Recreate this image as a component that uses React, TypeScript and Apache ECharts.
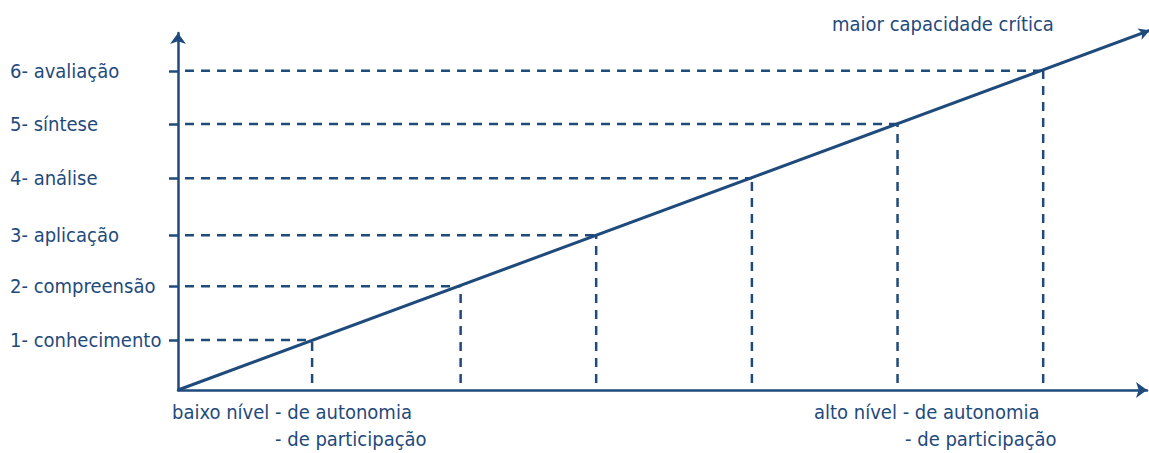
import React, { useEffect, useRef } from "react";
import * as echarts from "echarts";

// Bloom levels (y-axis labels) and their positions on the diagonal (level units)
const levelLabels = [
  "1- conhecimento",
  "2- compreensão",
  "3- aplicação",
  "4- análise",
  "5- síntese",
  "6- avaliação",
];
const levelValues = [0.94, 1.95, 2.91, 3.98, 5.0, 6.0];
// x positions (autonomy) where each level meets the diagonal
const autonomyValues = [0.93, 1.96, 2.9, 3.98, 4.99, 6.0];
const diagonalEnd = [6.74, 6.76];

const topNote = "maior capacidade crítica";
const lowNote = ["baixo nível - de autonomia", "- de participação"];
const highNote = ["alto nível - de autonomia", "- de participação"];

const BLUE = "#1f4a7c";
const FONT = "'DejaVu Sans Condensed', 'DejaVu Sans', sans-serif";
const FS = 20;

export default function App() {
  const ref = useRef<HTMLDivElement>(null);
  useEffect(() => {
    const chart = echarts.init(ref.current!, undefined, { renderer: "svg" });
    const dashed = {
      color: BLUE,
      width: 2.5,
      type: [9, 7] as any,
    };
    const series: any[] = [];
    levelValues.forEach((v, i) => {
      series.push({
        type: "line",
        data: [
          [0, v],
          [autonomyValues[i], v],
        ],
        symbol: "none",
        lineStyle: { ...dashed, dashOffset: 9 },
        silent: true,
        clip: false,
      });
      series.push({
        type: "line",
        data: [
          [autonomyValues[i], 0],
          [autonomyValues[i], v],
        ],
        symbol: "none",
        lineStyle: { ...dashed, dashOffset: 9 },
        silent: true,
        clip: false,
      });
    });
    series.push({
      type: "line",
      data: [
        { value: [0, 0], symbol: "none" },
        {
          value: diagonalEnd,
          symbol: "arrow",
          symbolSize: [9, 11],
          symbolRotate: -69.7,
          itemStyle: { color: BLUE },
        },
      ],
      showSymbol: true,
      showAllSymbol: true,
      clip: false,
      silent: true,
      lineStyle: { color: BLUE, width: 3, type: "solid" },
      itemStyle: { color: BLUE },
    });
    const labelFor = (v: number) => {
      const i = levelValues.findIndex((x) => Math.abs(x - v) < 1e-6);
      return i >= 0 ? levelLabels[i] : "";
    };
    const txt = (text: string, left: number, top: number) => ({
      type: "text",
      left,
      top,
      style: { text, fill: BLUE, fontFamily: FONT, fontSize: FS },
    });
    chart.setOption({
      animation: false,
      grid: { left: 178, right: 2, top: 33, bottom: 63, containLabel: false },
      xAxis: {
        type: "value",
        min: 0,
        max: 6.72,
        axisLine: {
          show: true,
          symbol: ["none", "arrow"],
          symbolSize: [12, 11],
          lineStyle: { color: BLUE, width: 2.5 },
        },
        axisTick: { show: false },
        axisLabel: { show: false },
        splitLine: { show: false },
      },
      yAxis: {
        type: "value",
        min: 0,
        max: 6.71,
        axisLine: {
          show: true,
          symbol: ["none", "arrow"],
          symbolSize: [12, 11],
          lineStyle: { color: BLUE, width: 2.5 },
        },
        axisTick: {
          show: true,
          length: 9,
          customValues: levelValues,
          lineStyle: { color: BLUE, width: 2.5 },
        },
        axisLabel: {
          show: true,
          customValues: levelValues,
          formatter: labelFor,
          align: "left",
          margin: 168,
          color: BLUE,
          fontFamily: FONT,
          fontSize: FS,
        },
        splitLine: { show: false },
      },
      graphic: [
        txt(topNote, 832, 14),
        txt(lowNote[0], 172, 402),
        txt(lowNote[1], 275, 429),
        txt(highNote[0], 814, 402),
        txt(highNote[1], 905, 429),
      ],
      series,
    });
    return () => chart.dispose();
  }, []);
  return (
    <div
      ref={ref}
      style={{ position: "absolute", left: 0, top: 0, width: 1149, height: 453 }}
    />
  );
}
